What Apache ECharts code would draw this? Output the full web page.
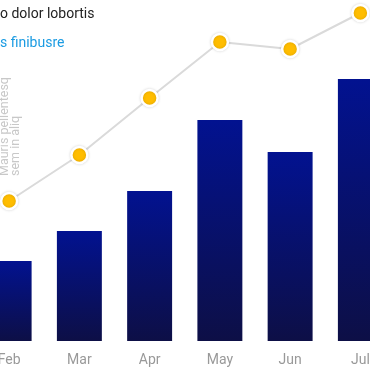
<!DOCTYPE html>
<html>
<head>
<meta charset="utf-8">
<script src="https://cdn.jsdelivr.net/npm/echarts@6/dist/echarts.min.js"></script>
<style>
html,body{margin:0;padding:0;background:#fff;overflow:hidden;width:370px;height:367px;position:relative;}
#c{position:absolute;left:-30px;top:0;width:460px;height:367px;}
</style>
</head>
<body>
<div id="c"></div>
<script>
const categories = ['Feb', 'Mar', 'Apr', 'May', 'Jun', 'Jul'];
const barValues = [80, 110, 150, 221, 189, 262];
const lineValues = [140, 186, 243, 299, 292, 328];
const titleText = 'o dolor lobortis';
const subtitleText = 's finibusre';
const sideNote = 'Mauris pellentesq\nsem in aliq';

const chart = echarts.init(document.getElementById('c'), null, {renderer: 'canvas'});
chart.setOption({
  animation: false,
  textStyle: {fontFamily: 'Roboto'},
  title: {
    text: titleText,
    subtext: subtitleText,
    left: 25,
    top: 2,
    itemGap: 15,
    textStyle: {fontSize: 14, fontWeight: 'normal', color: '#222', fontFamily: 'Roboto'},
    subtextStyle: {fontSize: 14, color: '#1a9be2', fontFamily: 'Roboto'}
  },
  graphic: [{
    type: 'text',
    x: 29,
    y: 176,
    rotation: Math.PI / 2,
    style: {
      text: sideNote,
      fill: '#c8c8c8',
      font: '12.5px Roboto',
      lineHeight: 11.5,
      align: 'left',
      verticalAlign: 'top'
    }
  }],
  grid: {left: 4, width: 421.5, top: 1, bottom: 26},
  xAxis: {
    type: 'category',
    data: categories,
    axisLine: {show: false},
    axisTick: {show: false},
    axisLabel: {color: '#999', fontSize: 14, margin: 12}
  },
  yAxis: [
    {type: 'value', min: 0, max: 340, show: false, splitLine: {show: false}},
    {type: 'value', min: 0, max: 340, show: false, splitLine: {show: false}}
  ],
  series: [
    {
      type: 'bar',
      data: barValues,
      barWidth: '64%',
      itemStyle: {
        color: new echarts.graphic.LinearGradient(0, 0, 0, 1, [
          {offset: 0, color: '#021290'},
          {offset: 1, color: '#0d0f46'}
        ])
      }
    },
    {
      type: 'line',
      yAxisIndex: 1,
      data: lineValues,
      symbol: 'circle',
      symbolSize: 16,
      lineStyle: {color: '#dadada', width: 2},
      itemStyle: {color: '#ffbd00', borderColor: '#fff', borderWidth: 2.5, shadowColor: 'rgba(0,0,0,0.15)', shadowBlur: 3},
      clip: false,
      z: 3
    }
  ]
});
</script>
</body>
</html>
